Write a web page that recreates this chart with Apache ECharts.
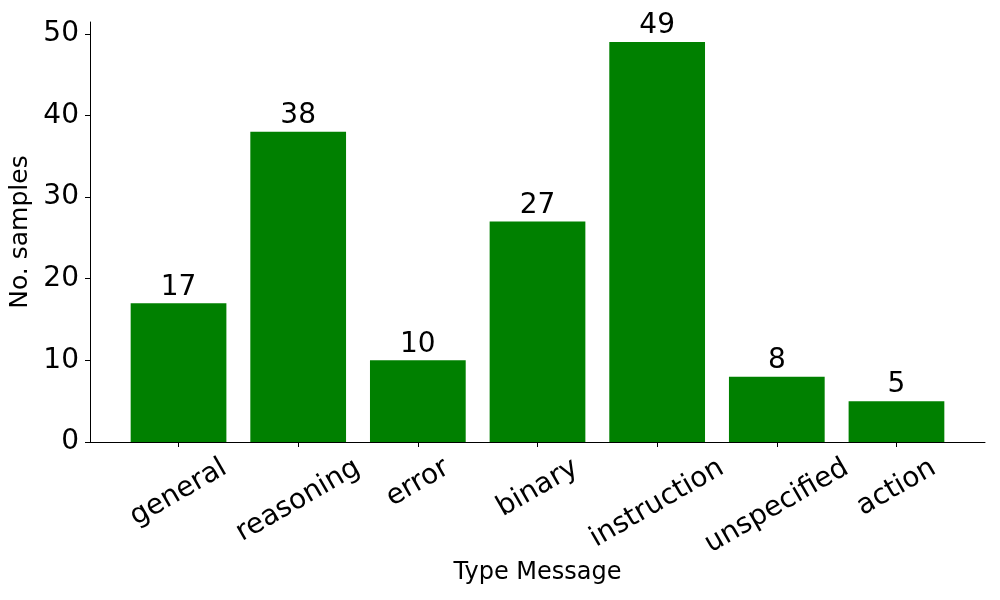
<!DOCTYPE html>
<html>
<head>
<meta charset="utf-8">
<script src="https://cdn.jsdelivr.net/npm/echarts@6/dist/echarts.min.js"></script>
<style>
  html, body { margin: 0; padding: 0; background: #fff; }
  #chart { width: 1000px; height: 600px; }
</style>
</head>
<body>
<div id="chart"></div>
<script>
// data
const categories = ['general', 'reasoning', 'error', 'binary', 'instruction', 'unspecified', 'action'];
const counts = [17, 38, 10, 27, 49, 8, 5];
const yTicks = [0, 10, 20, 30, 40, 50];

const FONT = 'DejaVu Sans';
const TICK_FONT = 28;

// matplotlib centres rotated labels on their bounding box, ECharts rotates round the anchor,
// so longer labels get pushed down with rich-text padding
const ctx = document.createElement('canvas').getContext('2d');
ctx.font = TICK_FONT + 'px "' + FONT + '"';
const richStyles = {};
categories.forEach(function (c, i) {
  const d = ctx.measureText(c).width / 4;
  richStyles['p' + i] = {
    fontSize: TICK_FONT,
    fontFamily: FONT,
    color: '#000',
    padding: [1.732 * d, d, 0, 0]
  };
});
const catData = categories.map(function (c) {
  return { value: c, textStyle: { align: 'center', verticalAlign: 'middle' } };
});

const chart = echarts.init(document.getElementById('chart'));

const option = {
  animation: false,
  textStyle: { fontFamily: FONT },
  grid: [
    { left: 90, right: 15, top: 22, bottom: 158 },
    { left: 118.7, right: 43.7, top: 22, bottom: 158 }
  ],
  xAxis: [
    {
      gridIndex: 0,
      type: 'value',
      min: 0,
      max: 1,
      axisLine: { show: true, lineStyle: { color: '#000', width: 1 } },
      axisTick: { show: false },
      axisLabel: { show: false },
      splitLine: { show: false },
      name: 'Type Message',
      nameLocation: 'middle',
      nameGap: 119,
      nameTextStyle: { fontSize: 24, color: '#000', fontFamily: FONT, verticalAlign: 'top' }
    },
    {
      gridIndex: 1,
      type: 'category',
      data: catData,
      axisLine: { show: false },
      axisTick: { show: true, alignWithLabel: true, length: 5, lineStyle: { color: '#000' } },
      axisLabel: {
        rotate: 30,
        interval: 0,
        align: 'center',
        verticalAlign: 'middle',
        margin: 24,
        fontSize: TICK_FONT,
        color: '#000',
        fontFamily: FONT,
        formatter: function (v, i) { return '{p' + i + '|' + v + '}'; },
        rich: richStyles
      }
    }
  ],
  yAxis: [
    {
      gridIndex: 0,
      type: 'value',
      min: 0,
      max: 51.45,
      interval: 10,
      axisLine: { show: true, lineStyle: { color: '#000', width: 1 } },
      axisTick: { show: true, length: 5, lineStyle: { color: '#000' } },
      axisLabel: {
        showMaxLabel: false,
        fontSize: TICK_FONT,
        color: '#000',
        fontFamily: FONT,
        margin: 11,
        formatter: function (v) { return yTicks.indexOf(v) >= 0 ? String(v) : ''; }
      },
      splitLine: { show: false },
      name: 'No. samples',
      nameLocation: 'middle',
      nameGap: 57,
      nameMoveOverlap: false,
      nameTextStyle: { fontSize: 25, color: '#000', fontFamily: FONT }
    },
    {
      gridIndex: 1,
      type: 'value',
      min: 0,
      max: 51.45,
      show: false
    }
  ],
  series: [
    {
      type: 'bar',
      xAxisIndex: 1,
      yAxisIndex: 1,
      data: counts,
      barWidth: '80%',
      itemStyle: { color: '#008000' },
      label: {
        show: true,
        position: 'top',
        distance: 2,
        fontSize: TICK_FONT,
        color: '#000',
        fontFamily: FONT
      }
    }
  ]
};

chart.setOption(option);
</script>
</body>
</html>
